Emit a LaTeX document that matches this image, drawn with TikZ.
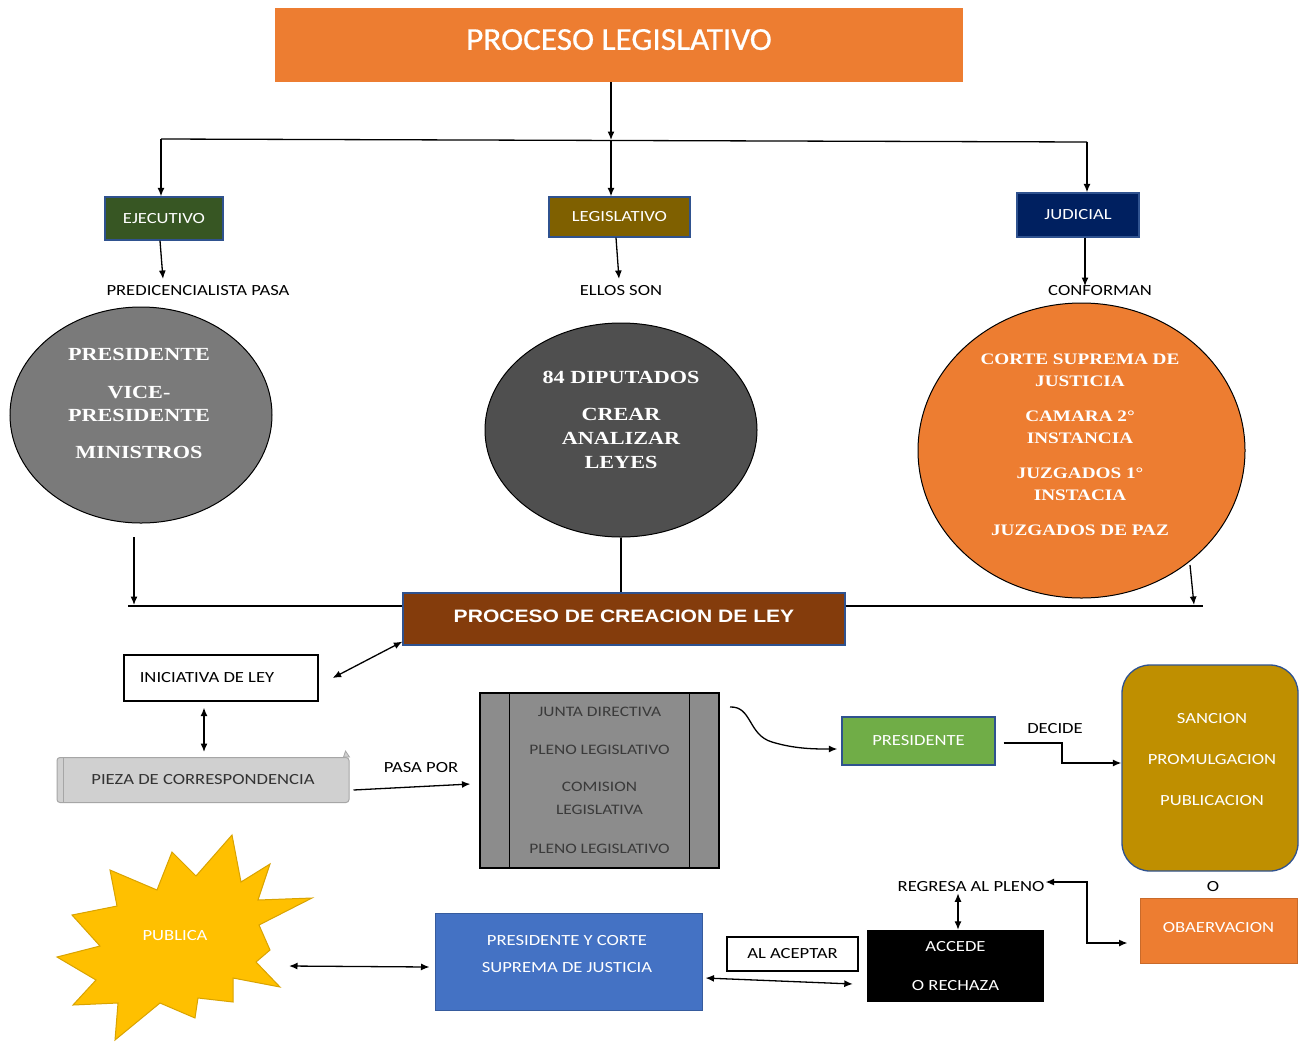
\documentclass[tikz,border=0pt]{standalone}
\usepackage{fontspec}
\setmainfont[FakeStretch=1.2]{Carlito}
\newfontfamily\ttlfont[FakeStretch=1.04,FakeBold=0.6]{Carlito}
\newfontfamily\ellfont[FakeStretch=1.2]{Liberation Serif}
\newfontfamily\hvyfont[FakeStretch=1.17]{Liberation Sans}
\usetikzlibrary{arrows.meta,shapes.geometric}
\definecolor{corange}{HTML}{ED7D31}
\definecolor{cgreen}{HTML}{375623}
\definecolor{cbrown}{HTML}{7F6000}
\definecolor{cnavy}{HTML}{002060}
\definecolor{cboxblue}{HTML}{2F528F}
\definecolor{cgrayA}{HTML}{7A7A7A}
\definecolor{cgrayB}{HTML}{4F4F4F}
\definecolor{ccre}{HTML}{843C0C}
\definecolor{cpieza}{HTML}{D0D0D0}
\definecolor{cgbox}{HTML}{8C8C8C}
\definecolor{ctxtgray}{HTML}{3A3A3A}
\definecolor{cgreenl}{HTML}{70AD47}
\definecolor{cgold}{HTML}{BF8F00}
\definecolor{cblue}{HTML}{4472C4}
\definecolor{cyel}{HTML}{FFC000}
\begin{document}
\begin{tikzpicture}[x=1pt,y=-1pt,
  arr/.style={-{Latex[length=8.5pt,width=7pt]}, line width=1.3pt},
  darr/.style={{Latex[length=8.5pt,width=7pt]}-{Latex[length=8.5pt,width=7pt]}, line width=1.3pt},
  plainline/.style={line width=1.3pt},
  lbl/.style={font={\fontsize{15.5}{19}\selectfont}, text=black, inner sep=1pt},
  cbox/.style={lbl, draw=cboxblue, line width=1.3pt, text=white, inner sep=0pt},
  ell/.style={ellipse, draw=black, line width=1pt, inner sep=0pt},
  elltxt/.style={text=white, align=center, inner sep=0pt},
  wbox/.style={lbl, draw=black, line width=1.2pt, fill=white}
]
\useasboundingbox[fill=white] (0,0) rectangle (1300,1042);

% title
\node[fill=corange, minimum width=688pt, minimum height=74pt, text=white, inner sep=0pt,
  font={\ttlfont\fontsize{32}{36}\selectfont}] (title) at (619,45) {\raisebox{11pt}{PROCESO LEGISLATIVO}};

\coordinate (j0) at (611,140);
\coordinate (jl) at (161,139);
\coordinate (jr) at (1087,142);
\draw[arr] (title.south -| j0) -- (j0);
\draw[plainline] (jl) -- (jr);

% three powers
\node[cbox, fill=cgreen, minimum width=118pt, minimum height=43pt] (ejec) at (164,218.5) {EJECUTIVO};
\node[cbox, fill=cbrown, minimum width=141pt, minimum height=40pt] (legis) at (619.5,217) {LEGISLATIVO};
\node[cbox, fill=cnavy, minimum width=122pt, minimum height=44pt] (jud) at (1078,215) {JUDICIAL};
\draw[arr] (jl) -- (jl |- ejec.north);
\draw[arr] (j0) -- (j0 |- legis.north);
\draw[arr] (jr) -- (jr |- jud.north);

\node[lbl] (l1) at (198,291) {PREDICENCIALISTA PASA};
\node[lbl] (l2) at (621,291) {ELLOS SON};
\node[lbl] (l3) at (1100,291) {CONFORMAN};
\coordinate (l1t) at (163,279);
\coordinate (l2t) at (619,279);
\coordinate (l3t) at (1085,286);
\draw[arr] ([xshift=-4pt]ejec.south) -- (l1t);
\draw[arr] ([xshift=-3.5pt]legis.south) -- (l2t);
\draw[arr] ([xshift=7pt]jud.south) -- (l3t);

% ellipses
\node[ell, fill=cgrayA, minimum width=262pt, minimum height=216pt] (e1) at (141,415) {};
\node[elltxt, font={\ellfont\bfseries\fontsize{18.5}{23}\selectfont}] (e1t) at (139,403)
  {PRESIDENTE\\[15pt]VICE-\\PRESIDENTE\\[14pt]MINISTROS};
\node[ell, fill=cgrayB, minimum width=272pt, minimum height=214pt] (e2) at (621,430) {};
\node[elltxt, font={\ellfont\bfseries\fontsize{18.5}{24}\selectfont}] (e2t) at (621,420)
  {84 DIPUTADOS\\[13pt]CREAR\\ANALIZAR\\LEYES};
\node[ell, fill=corange, minimum width=327pt, minimum height=295pt] (e3) at (1081.5,450.5) {};
\node[elltxt, font={\ellfont\bfseries\fontsize{16}{22}\selectfont}] (e3t) at (1080,445)
  {CORTE SUPREMA DE\\JUSTICIA\\[13pt]CAMARA 2°\\INSTANCIA\\[13pt]JUZGADOS 1°\\INSTACIA\\[13pt]JUZGADOS DE PAZ};

% proceso de creacion
\node[draw=cboxblue, line width=1.3pt, fill=ccre, minimum width=442pt, minimum height=52pt, text=white, inner sep=0pt,
  font={\hvyfont\bfseries\fontsize{18}{20}\selectfont}] (cre) at (624,619) {\raisebox{5pt}{PROCESO DE CREACION DE LEY}};
\coordinate (hl) at (128,606);
\coordinate (hr) at (1203,606);
\draw[plainline] (hl) -- (hl -| cre.west);
\draw[plainline] (cre.east |- hr) -- (hr);
\draw[plainline] (e2.south) -- (e2.south |- cre.north);
\coordinate (b1s) at (134,537);
\coordinate (b1e) at (134,605);
\draw[arr] (b1s) -- (b1e);
\coordinate (b3s) at (1190,565);
\coordinate (b3e) at (1194,605);
\draw[arr] (b3s) -- (b3e);

% iniciativa
\node[wbox, minimum width=194pt, minimum height=46pt] (ini) at (221,678) {\hspace*{-28pt}INICIATIVA DE LEY};
\draw[darr] ([xshift=14pt]ini.east) -- ([yshift=4pt]cre.south west);

% pieza
\node[lbl, fill=cpieza, draw=gray!70, line width=1pt, rounded corners=3pt, minimum width=292pt, minimum height=45pt, text=black!80] (pz) at (203,780) {PIEZA DE CORRESPONDENCIA};
\draw[gray!70, line width=1pt] ([xshift=7pt]pz.north west) -- ([xshift=7pt]pz.south west);
\filldraw[fill=cpieza, draw=gray!70, line width=0.8pt] ([xshift=-6pt]pz.north east) -- ++(2,-6) -- ++(4,6) -- cycle;
\draw[darr] ([xshift=-17pt,yshift=-6pt]ini.south) -- ([xshift=1pt,yshift=5pt]pz.north);

% gray box
\node[draw=black, line width=1.2pt, fill=cgbox, minimum width=239pt, minimum height=175pt, text=ctxtgray,
  font={\fontsize{14.5}{23}\selectfont}, align=center, inner sep=0pt] (gb) at (599.5,780.5)
  {JUNTA DIRECTIVA\\[15pt]PLENO LEGISLATIVO\\[14pt]COMISION\\LEGISLATIVA\\[16pt]PLENO LEGISLATIVO};
\draw[line width=1.2pt] ([xshift=30pt]gb.north west) -- ([xshift=30pt]gb.south west);
\draw[line width=1.2pt] ([xshift=-30pt]gb.north east) -- ([xshift=-30pt]gb.south east);
\draw[arr] ([xshift=4pt,yshift=-10pt]pz.east) -- ([xshift=-9pt,yshift=-3.5pt]gb.west);
\node[lbl] (pasa) at (421,768) {PASA POR};

% presidente
\node[cbox, fill=cgreenl, minimum width=153pt, minimum height=48pt] (pres) at (918.5,741) {PRESIDENTE};
\coordinate (cv) at (730,707);
\draw[arr] (cv) .. controls (752,706) and (748,735) .. (772,742) .. controls (795,749) and (815,749) .. ([xshift=-4pt,yshift=-8pt]pres.west);

% gold
\node[draw=cboxblue, line width=1.3pt, fill=cgold, rounded corners=28pt, minimum width=176pt, minimum height=206pt] (gold) at (1210,768) {};
\node[lbl, text=white, align=center] (goldt) at (1212,759.5) {SANCION\\[22pt]PROMULGACION\\[22pt]PUBLICACION};
\coordinate (dk) at (1062,743);
\draw[arr] ([xshift=8pt,yshift=-2pt]pres.east) -- (dk) |- ([yshift=5pt]gold.west);
\node[lbl] (dec) at (1055,729) {DECIDE};

% O / observacion
\node[lbl] (o) at (1213,887) {O};
\node[lbl, draw=corange!85!black, line width=1pt, fill=corange, minimum width=157pt, minimum height=65pt, text=white] (obs) at (1218.5,930.5) {\raisebox{6pt}{OBAERVACION}};
\node[lbl] (reg) at (971,887) {REGRESA AL PLENO};
\coordinate (rk) at (1087,882);
\draw[darr] ([yshift=5pt]reg.east) -- (rk) |- ([xshift=-12pt,yshift=-12.5pt]obs.west);

% accede
\node[lbl, fill=black, minimum width=177pt, minimum height=72pt, text=white, align=center] (acc) at (955.5,966) {ACCEDE\\[20pt]O RECHAZA};
\draw[darr] ([xshift=-13pt]reg.south) -- ([xshift=2.5pt]acc.north);

\node[wbox, minimum width=131pt, minimum height=34pt] (acep) at (792.5,954) {\raisebox{-3pt}{AL ACEPTAR}};

% blue
\node[draw=cblue!80!black, line width=1pt, fill=cblue, minimum width=267pt, minimum height=97pt] (blue) at (568.5,961.5) {};
\node[lbl, text=white, align=center] (bluet) at (567,954) {PRESIDENTE Y CORTE\\[8pt]SUPREMA DE JUSTICIA};
\draw[darr] ([xshift=3pt,yshift=-16.5pt]blue.east) -- ([xshift=-14pt,yshift=-18pt]acc.west);

% starburst
\filldraw[fill=cyel, draw=cyel!85!black, line width=1pt]
 (232,835) -- (241,882) -- (270,864) -- (258,900) -- (312,898) -- (259,925) -- (270,950) -- (256,962)
 -- (280,987) -- (233,978) -- (233,1002) -- (198,998) -- (195,1018) -- (160,1003) -- (115,1040)
 -- (118,1003) -- (73,1005) -- (96,980) -- (57,957) -- (100,946) -- (72,915) -- (117,906)
 -- (110,870) -- (157,890) -- (172,852) -- (196,876) -- cycle;
\node[lbl, text=white] (pub) at (175,936) {PUBLICA};
\coordinate (pa) at (289,966);
\draw[darr] (pa) -- ([xshift=-5pt,yshift=-5.5pt]blue.west);
\end{tikzpicture}
\end{document}
